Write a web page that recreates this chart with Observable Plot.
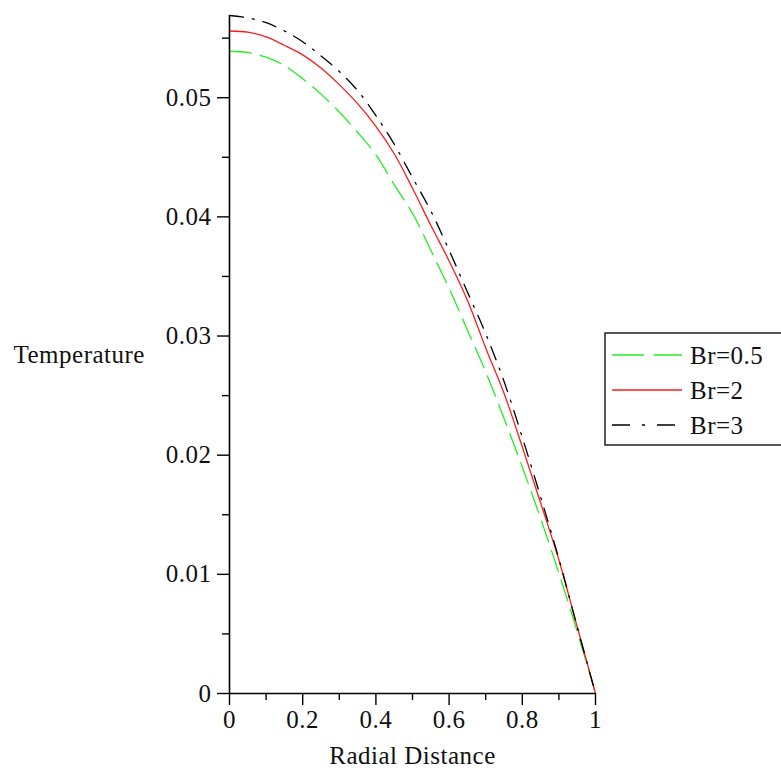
<!DOCTYPE html>
<html>
<head>
<meta charset="utf-8">
<script src="https://cdn.jsdelivr.net/npm/d3@7"></script>
<script src="https://cdn.jsdelivr.net/npm/@observablehq/plot@0.6"></script>
<style>
  html, body { margin: 0; padding: 0; background: #fff; }
  #chart svg { display: block; }
  #chart svg text { letter-spacing: 0.5px; }
</style>
</head>
<body>
<div id="chart"></div>
<script>
// Radial distance samples
const radial = [0, 0.05, 0.1, 0.15, 0.2, 0.25, 0.3, 0.35, 0.4, 0.45, 0.5,
                0.55, 0.6, 0.65, 0.7, 0.75, 0.8, 0.85, 0.9, 0.95, 1];
// Temperature, Br = 0.5 (green dashed)
const tempBr05 = [0.0539, 0.0538, 0.0534, 0.0527, 0.0516, 0.0503, 0.0488, 0.0471, 0.0452, 0.0427, 0.0403,
                  0.0372, 0.0340, 0.0305, 0.0270, 0.0231, 0.0190, 0.0147, 0.0101, 0.0052, 0];
// Temperature, Br = 2 (red solid)
const tempBr2  = [0.0556, 0.0555, 0.0551, 0.0544, 0.0536, 0.0525, 0.0511, 0.0495, 0.0476, 0.0453, 0.0424,
                  0.0393, 0.0363, 0.0330, 0.0290, 0.0252, 0.0207, 0.0160, 0.0112, 0.0056, 0];
// Temperature, Br = 3 (black dash-dot)
const tempBr3  = [0.0569, 0.0567, 0.0563, 0.0556, 0.0547, 0.0535, 0.0522, 0.0506, 0.0485, 0.0461, 0.0433,
                  0.0405, 0.0372, 0.0337, 0.0302, 0.0262, 0.0215, 0.0165, 0.0113, 0.0056, 0];

const seriesNames = ["Br=0.5", "Br=2", "Br=3"];
const xTicks = [0, 0.2, 0.4, 0.6, 0.8, 1];
const xMinorTicks = [0.1, 0.3, 0.5, 0.7, 0.9];
const yTicks = [0, 0.01, 0.02, 0.03, 0.04, 0.05];
const yMinorTicks = [0.005, 0.015, 0.025, 0.035, 0.045, 0.055];
const xLabel = "Radial Distance";
const yLabel = "Temperature";

const styles = [
  {stroke: "#22ee22", dash: "22,9"},
  {stroke: "#ff1a1a", dash: null},
  {stroke: "#000000", dash: "14,9,2,9"}
];
const allSeries = [tempBr05, tempBr2, tempBr3];

const W = 781, H = 771;
const FONT = "'Liberation Serif', 'Times New Roman', serif";
const FS = 25;

const lineMarks = allSeries.map((vals, i) => {
  const data = radial.map((r, j) => ({r, t: vals[j]}));
  return Plot.line(data, {
    x: "r", y: "t",
    stroke: styles[i].stroke,
    strokeWidth: 1.3,
    strokeDasharray: styles[i].dash,
    curve: "catmull-rom"
  });
});

const chart = Plot.plot({
  width: W,
  height: H,
  marginTop: 15,
  marginBottom: 78,
  marginLeft: 229,
  marginRight: 186,
  style: {fontFamily: FONT, fontSize: FS + "px", color: "#111", background: "#fff"},
  x: {domain: [0, 1]},
  y: {domain: [0, 0.0569]},
  marks: [
    ...lineMarks,
    Plot.ruleX([0], {stroke: "#000", strokeWidth: 1.6}),
    Plot.ruleY([0], {stroke: "#000", strokeWidth: 1.6}),
    Plot.axisX(xTicks, {tickSize: 12, tickPadding: 5, tickFormat: d => String(d),
      fontSize: FS, stroke: "#000", strokeWidth: 1.4, label: null}),
    Plot.axisX(xMinorTicks, {tickSize: 7, tickFormat: () => "", stroke: "#000", strokeWidth: 1.4, label: null}),
    Plot.axisY(yTicks, {tickSize: 12, tickPadding: 6, tickFormat: d => String(d),
      fontSize: FS, stroke: "#000", strokeWidth: 1.4, label: null}),
    Plot.axisY(yMinorTicks, {tickSize: 7, tickFormat: () => "", stroke: "#000", strokeWidth: 1.4, label: null}),
    Plot.text([xLabel], {frameAnchor: "bottom", dy: 62, lineAnchor: "middle", fontSize: FS, fill: "#111"}),
    Plot.text([yLabel], {frameAnchor: "left", dx: -216, textAnchor: "start", lineAnchor: "middle", fontSize: FS, fill: "#111"})
  ]
});

// Legend box drawn into the same SVG (right side, clipped by the edge)
const svg = d3.select(chart);
const lg = svg.append("g").attr("font-family", FONT).attr("font-size", FS).attr("text-anchor", "start");
lg.append("rect").attr("x", 605).attr("y", 333).attr("width", 200).attr("height", 112)
  .attr("fill", "#fff").attr("stroke", "#222").attr("stroke-width", 1.5);
seriesNames.forEach((name, i) => {
  const y = 355 + i * 35;
  lg.append("line").attr("x1", 612).attr("x2", 682).attr("y1", y).attr("y2", y)
    .attr("stroke", styles[i].stroke).attr("stroke-width", 1.5)
    .attr("stroke-dasharray", i === 0 ? "32,10" : (i === 2 ? "18,12,3,12" : null));
  lg.append("text").attr("x", 690).attr("y", y).attr("dy", "0.35em")
    .attr("text-anchor", "start").attr("fill", "#111").text(name);
});

document.getElementById("chart").appendChild(chart);
</script>
</body>
</html>
